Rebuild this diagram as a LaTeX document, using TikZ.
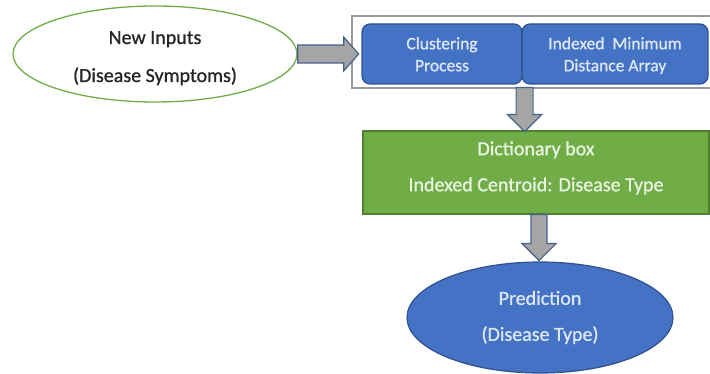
\documentclass[tikz,border=0pt]{standalone}
\usepackage{fontspec}
\setmainfont{Carlito}[FakeBold=1]
\usetikzlibrary{shapes.geometric,calc}
\definecolor{inGreen}{HTML}{70AD47}
\definecolor{boxBlue}{HTML}{4472C4}
\definecolor{boxBlueD}{HTML}{2F528F}
\definecolor{boxGreen}{HTML}{70AD47}
\definecolor{boxGreenD}{HTML}{507E32}
\definecolor{arrGray}{HTML}{A5A5A5}
\definecolor{arrEdge}{HTML}{44628A}
\definecolor{txtBlue}{HTML}{DCE6F5}
\definecolor{txtGreen}{HTML}{E8F3E0}
\definecolor{txtDark}{HTML}{262626}
% two smashed lines with struts: #3 height above first line, #4 depth below last
\newcommand\twolns[4]{\rule{0pt}{#3}\smash{#1}\\\smash{#2}\rule[-#4]{0pt}{#4}}
\tikzset{
  inell/.style={ellipse, draw=inGreen, line width=1.3pt, fill=white, inner sep=0pt,
    minimum width=284pt, minimum height=96pt, align=center, text=txtDark,
    font=\fontsize{20}{38}\selectfont},
  groupbox/.style={rectangle, draw=gray!80, line width=1.2pt, fill=white,
    minimum width=360pt, minimum height=72pt, inner sep=0pt},
  bluebox/.style={rectangle, rounded corners=8pt, draw=boxBlueD, line width=1.2pt,
    fill=boxBlue, text=txtBlue, align=center, inner sep=0pt, minimum height=60pt,
    font=\fontsize{17.5}{22}\selectfont},
  dictbox/.style={rectangle, draw=boxGreenD, line width=1.2pt, fill=boxGreen,
    text=txtGreen, align=center, inner sep=0pt, minimum width=346pt, minimum height=83pt,
    font=\fontsize{20}{36}\selectfont},
  outell/.style={ellipse, draw=boxBlueD, line width=1.2pt, fill=boxBlue, text=txtBlue,
    align=center, inner sep=0pt, minimum width=266pt, minimum height=111pt,
    font=\fontsize{20}{36}\selectfont},
  barrow/.style={fill=arrGray, draw=arrEdge, line width=1.2pt, line join=miter}
}
\begin{document}
\begin{tikzpicture}[x=1pt,y=-1pt]
\useasboundingbox (0,0) rectangle (710,374);
\clip (0,0) rectangle (710,374);
\node[inell] (inp) at (155,54) {\twolns{New Inputs}{(Disease Symptoms)}{18pt}{0pt}};
\node[groupbox] (grp) at (532,52) {};
\node[bluebox, minimum width=160pt] (b1) at (442,54) {\twolns{Clustering}{Process}{12.5pt}{0pt}};
\node[bluebox, minimum width=186pt] (b2) at (615,54) {\twolns{Indexed\ \ Minimum}{Distance Array}{12.5pt}{0pt}};
\node[dictbox] (dict) at (536,172.5) {\twolns{Dictionary box}{Indexed Centroid: Disease Type}{12pt}{10.5pt}};
\node[outell] (pred) at (540,317.5) {Prediction\\(Disease Type)};
% block arrows
\draw[barrow] (inp.east) ++(0,-9) -- ++(46,0) -- ++(0,-8) -- ++(15,17) -- ++(-15,17)
  -- ++(0,-8) -- ++(-46,0) -- cycle;
\draw[barrow] ($(b1.south east)+(2,4)$) ++(-8.5,-1) -- ++(0,27) -- ++(-8.5,0)
  -- ++(17,17) -- ++(17,-17) -- ++(-8.5,0) -- ++(0,-27) -- cycle;
\draw[barrow] ($(dict.south)+(3,0)$) ++(-8,0) -- ++(0,29) -- ++(-9,0)
  -- ++(17,17) -- ++(17,-17) -- ++(-9,0) -- ++(0,-29) -- cycle;
\end{tikzpicture}
\end{document}
